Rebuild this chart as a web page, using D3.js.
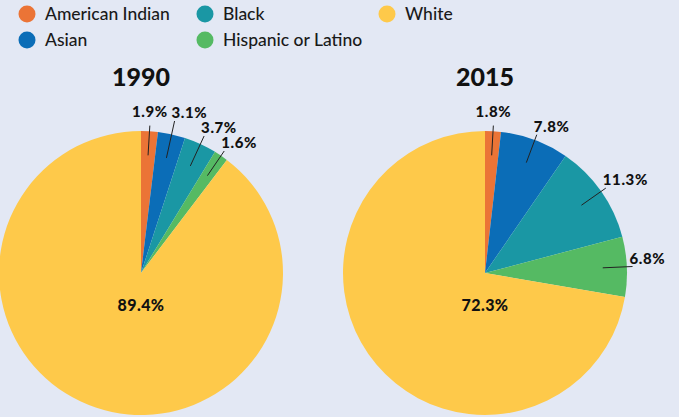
<!DOCTYPE html>
<html>
<head>
<meta charset="utf-8">
<script src="https://cdn.jsdelivr.net/npm/d3@7"></script>
<style>
  body { margin: 0; background: #e3e8f4; }
  svg { display: block; font-family: Lato, "Open Sans", sans-serif; }
</style>
</head>
<body>
<div id="chart"></div>
<script>
// chart data
var groups = ["American Indian", "Asian", "Black", "Hispanic or Latino", "White"];
var colors = ["#eb7436", "#0b6db7", "#1a97a4", "#55ba63", "#fec94a"];
var years = ["1990", "2015"];
var values1990 = [1.9, 3.1, 3.7, 1.6, 89.4];
var values2015 = [1.8, 7.8, 11.3, 6.8, 72.3];

var width = 679;
var height = 417;

var svg = d3.select("#chart")
    .append("svg")
    .attr("width", width)
    .attr("height", height);

svg.append("rect")
    .attr("width", width)
    .attr("height", height)
    .attr("fill", "#e3e8f4");

var color = d3.scaleOrdinal().domain(groups).range(colors);

// legend, three columns, filled column by column
var legendCols = [27, 205, 387];
var legend = svg.selectAll(".legend")
    .data(groups)
    .enter()
    .append("g")
    .attr("class", "legend")
    .attr("transform", function (d, i) {
        return "translate(" + legendCols[Math.floor(i / 2)] + "," + (14 + (i % 2) * 26) + ")";
    });

legend.append("circle")
    .attr("r", 8.5)
    .attr("fill", function (d) { return color(d); });

legend.append("text")
    .attr("x", 18)
    .attr("dy", "0.35em")
    .style("font-size", "17.5px")
    .style("font-weight", "500")
    .attr("fill", "#1a1a1a")
    .text(function (d) { return d; });

var radius = 142;
var pie = d3.pie().sort(null).value(function (d) { return d.value; });
var arc = d3.arc().innerRadius(0).outerRadius(radius);

function drawPie(cx, year, values) {
    var data = groups.map(function (g, i) { return { group: g, value: values[i] }; });
    var arcs = pie(data);

    var g = svg.append("g").attr("transform", "translate(" + cx + ",273)");

    g.append("text")
        .attr("y", -187)
        .attr("text-anchor", "middle")
        .style("font-size", "25px")
        .style("font-weight", "900")
        .attr("fill", "#111")
        .text(year);

    g.selectAll("path")
        .data(arcs)
        .enter()
        .append("path")
        .attr("d", arc)
        .attr("fill", function (d) { return color(d.data.group); });

    // White gets its label inside the slice
    var big = arcs[arcs.length - 1];
    g.append("text")
        .attr("y", 38)
        .attr("text-anchor", "middle")
        .style("font-size", "16px")
        .style("font-weight", "900")
        .style("letter-spacing", "0.4px")
        .attr("fill", "#111")
        .text(big.data.value.toFixed(1) + "%");

    // the small slices get leader lines; walk backwards so a label
    // that would collide with the next one is pushed up (and its line stretched)
    var next = null;
    for (var i = arcs.length - 2; i >= 0; i--) {
        var d = arcs[i];
        var a = (d.startAngle + d.endAngle) / 2;
        var r0 = radius * 0.83, r1 = radius * 1.04;
        var x1 = Math.sin(a) * r1, y1 = -Math.cos(a) * r1;
        var small = a < 0.14;
        var tx = small ? x1 : x1 - 3;
        var ty = small ? y1 - 9 : y1 - 3;
        if (!small && next && Math.abs(next.x - tx) < 40 && ty > next.y - 15) {
            ty = next.y - 15;
            r1 = -(ty + 3) / Math.cos(a);
            x1 = Math.sin(a) * r1;
            y1 = -Math.cos(a) * r1;
            tx = x1 - 3;
        }
        g.append("line")
            .attr("x1", Math.sin(a) * r0).attr("y1", -Math.cos(a) * r0)
            .attr("x2", x1).attr("y2", y1)
            .attr("stroke", "#222")
            .attr("stroke-width", 1);
        g.append("text")
            .attr("x", tx)
            .attr("y", ty)
            .attr("text-anchor", small ? "middle" : "start")
            .style("font-size", "15px")
            .style("font-weight", "900")
            .style("letter-spacing", "0.6px")
            .attr("fill", "#111")
            .text(d.data.value.toFixed(1) + "%");
        next = { x: tx, y: ty };
    }
}

drawPie(141, years[0], values1990);
drawPie(485, years[1], values2015);
</script>
</body>
</html>
